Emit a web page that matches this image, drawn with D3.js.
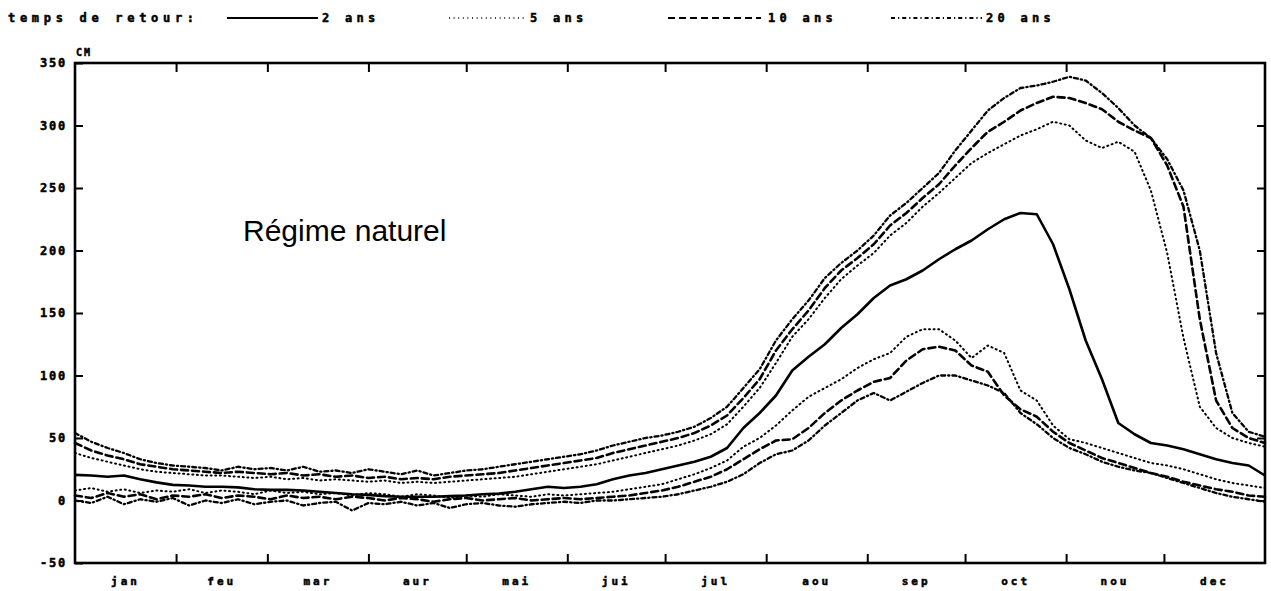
<!DOCTYPE html>
<html>
<head>
<meta charset="utf-8">
<script src="https://cdn.jsdelivr.net/npm/d3@7"></script>
<style>
  html, body { margin: 0; padding: 0; background: #fff; }
  svg { display: block; }
  .px { font-family: "DejaVu Sans Mono", monospace; font-weight: bold; fill: #000; stroke: #000; stroke-width: 0.5px; }
</style>
</head>
<body>
<svg id="chart" width="1271" height="591"></svg>
<script>
// Day of year (every 5 days) at which the water levels are given
const days = d3.range(0, 366, 5);

// Water level (cm) for each return period; "haut" = wet years, "bas" = dry years
const niveau2ans = [20.5,20,19,20,17,14.5,12.5,12,11,11,10.5,9,8.5,8.5,8,7,6,5,4.5,3.5,3,3,3,3.5,4,5,5.5,7,9,11,10,11,13,17,20,22,25,28,31,35,42,58,70,84,104,115,125,138,149,162,172,177,184,193,201,208,217,225,230,229,205,169,128,97,62,53,46,44,41,37,33,30,28,20];
const haut5ans = [38,34,31,28,25,23,22,21,20,20,19,18,19,17,18,16,17,16,15,16,14,15,14,15,16,17,18,19,21,23,25,27,29,32,35,38,41,44,48,53,61,75,90,110,131,145,162,177,188,198,212,222,235,246,258,270,278,285,292,297,303,300,288,282,287,279,248,198,130,75,58,50,46,43];
const haut10ans = [46,40,36,33,29,27,25,24,23,22,23,22,21,22,20,21,19,20,18,19,17,18,17,19,20,21,22,24,26,28,30,32,34,38,41,44,47,50,54,60,68,82,97,120,137,152,170,184,194,205,220,230,242,253,268,282,295,303,312,318,323,322,318,313,303,296,290,268,235,145,80,58,50,46];
const haut20ans = [54,47,42,38,33,30,28,27,26,24,27,25,26,24,27,23,24,22,25,23,21,24,20,22,24,25,27,29,31,33,35,37,40,44,47,50,52,55,59,66,75,90,105,128,145,160,178,190,200,212,228,238,250,262,280,296,312,322,330,332,335,339,336,326,314,300,290,273,248,200,118,70,55,51];
const bas5ans = [8,10,7,9,6,8,7,9,6,8,7,5,8,6,7,5,6,4,6,5,3,5,4,2,4,3,5,4,3,5,4,5,6,7,9,11,13,17,21,26,32,43,50,60,72,83,90,97,106,113,118,131,137,137,128,114,124,118,88,80,60,49,46,42,38,34,30,28,25,21,17,14,12,10];
const bas10ans = [4,2,6,3,5,1,4,3,5,2,4,3,1,4,2,3,1,3,2,0,2,1,-1,1,2,0,1,2,0,1,2,1,2,3,4,6,8,11,15,19,25,33,41,48,49,58,70,80,88,95,98,112,121,123,120,108,103,84,73,67,55,46,40,34,30,26,22,19,15,12,9,7,4,3];
const bas20ans = [0,-2,3,-3,1,-1,2,-4,0,-2,1,-3,-1,0,-4,-2,-1,-8,-2,-3,-1,-4,-2,-6,-3,-2,-4,-5,-3,-2,-1,-2,0,0,1,2,3,5,8,11,15,21,30,37,40,48,60,70,80,86,80,87,94,100,100,96,92,86,70,61,50,42,37,31,27,24,22,18,14,10,6,3,1,-1];

// Month starts (day of year) and their labels
const moisDebut = [0,31,59,90,120,151,181,212,243,273,304,334,365];
const moisLabels = ["jan","feu","mar","aur","mai","jui","jul","aou","sep","oct","nou","dec"];
const yTicks = [-50,0,50,100,150,200,250,300,350];

const legendeLabels = ["2 ans","5 ans","10 ans","20 ans"];

const styles = {
  solid:   { width: 2.6, dash: null },
  dotted:  { width: 2.0, dash: "1,3.6" },
  dashed:  { width: 2.6, dash: "7,4" },
  dashdot: { width: 2.3, dash: "4,3,1.2,3" }
};

const series = [
  { values: niveau2ans, style: "solid" },
  { values: haut5ans,  style: "dotted" },
  { values: haut10ans, style: "dashed" },
  { values: haut20ans, style: "dashdot" },
  { values: bas5ans,   style: "dotted" },
  { values: bas10ans,  style: "dashed" },
  { values: bas20ans,  style: "dashdot" }
];

const svg = d3.select("#chart");
const mLeft = 75, mRight = 1265, mTop = 63, mBottom = 563;

const x = d3.scaleLinear().domain([0, 365]).range([mLeft, mRight]);
const y = d3.scaleLinear().domain([-50, 350]).range([mBottom, mTop]);

svg.append("rect").attr("width", 1271).attr("height", 591).attr("fill", "#fff");

// Curves
const line = d3.line().x((d, i) => x(days[i])).y(d => y(d)).curve(d3.curveLinear);
series.forEach(s => {
  const st = styles[s.style];
  svg.append("path")
    .datum(s.values)
    .attr("d", line)
    .attr("fill", "none")
    .attr("stroke", "#000")
    .attr("stroke-width", st.width)
    .attr("stroke-linecap", st.dash ? "round" : "butt")
    .attr("stroke-linejoin", "round")
    .attr("stroke-dasharray", st.dash);
});

// Frame
svg.append("rect")
  .attr("x", mLeft).attr("y", mTop)
  .attr("width", mRight - mLeft).attr("height", mBottom - mTop)
  .attr("fill", "none").attr("stroke", "#000").attr("stroke-width", 2.6);

// Y axis (ticks inside on both sides)
const yAxisL = d3.axisRight(y).tickValues(yTicks).tickSize(8).tickFormat("");
const gL = svg.append("g").attr("transform", `translate(${mLeft},0)`).call(yAxisL);
const yAxisR = d3.axisLeft(y).tickValues(yTicks.filter(v => v > -50 && v < 350)).tickSize(8).tickFormat("");
const gR = svg.append("g").attr("transform", `translate(${mRight},0)`).call(yAxisR);
[gL, gR].forEach(g => {
  g.select(".domain").remove();
  g.selectAll("line").attr("stroke", "#000").attr("stroke-width", 2);
});

svg.append("g").selectAll("text")
  .data(yTicks).join("text")
  .attr("class", "px")
  .attr("x", 67).attr("y", d => y(d))
  .attr("dy", "0.36em")
  .attr("text-anchor", "end")
  .attr("font-size", 12)
  .attr("letter-spacing", 1.8)
  .text(d => d);

svg.append("text").attr("class", "px")
  .attr("x", 76).attr("y", 56)
  .attr("font-size", 10).attr("letter-spacing", 2)
  .text("CM");

// X axis: month boundaries ticked on top and bottom, labels centred in each month
const inner = moisDebut.slice(1, -1);
const xAxisB = d3.axisTop(x).tickValues(inner).tickSize(9).tickFormat("");
const gB = svg.append("g").attr("transform", `translate(0,${mBottom})`).call(xAxisB);
const xAxisT = d3.axisBottom(x).tickValues(inner).tickSize(9).tickFormat("");
const gT = svg.append("g").attr("transform", `translate(0,${mTop})`).call(xAxisT);
[gB, gT].forEach(g => {
  g.select(".domain").remove();
  g.selectAll("line").attr("stroke", "#000").attr("stroke-width", 2);
});

svg.append("g").selectAll("text")
  .data(moisLabels).join("text")
  .attr("class", "px")
  .attr("x", (d, i) => x((moisDebut[i] + moisDebut[i + 1]) / 2))
  .attr("y", 581)
  .attr("dy", "0.36em")
  .attr("text-anchor", "middle")
  .attr("font-size", 11)
  .attr("letter-spacing", 3)
  .text(d => d);

// Legend
const ly = 18;
svg.append("text").attr("class", "px")
  .attr("x", 8).attr("y", ly).attr("dy", "0.36em")
  .attr("font-size", 12).attr("letter-spacing", 4.7)
  .text("temps de retour:");

const legend = [
  { style: "solid",   x1: 227, x2: 318, tx: 322 },
  { style: "dotted",  x1: 449, x2: 524, tx: 530 },
  { style: "dashed",  x1: 668, x2: 761, tx: 768 },
  { style: "dashdot", x1: 891, x2: 982, tx: 986 }
];
legend.forEach((l, i) => {
  const st = styles[l.style];
  svg.append("line")
    .attr("x1", l.x1).attr("x2", l.x2).attr("y1", ly).attr("y2", ly)
    .attr("stroke", "#000").attr("stroke-width", st.width * 0.8)
    .attr("stroke-dasharray", st.dash);
  svg.append("text").attr("class", "px")
    .attr("x", l.tx).attr("y", ly).attr("dy", "0.36em")
    .attr("font-size", 12).attr("letter-spacing", 4.3)
    .text(legendeLabels[i]);
});

// Annotation
svg.append("text")
  .attr("x", 243).attr("y", 241)
  .attr("font-family", "'Liberation Sans', Arial, sans-serif")
  .attr("font-size", 30)
  .attr("fill", "#000")
  .text("Régime naturel");
</script>
</body>
</html>
